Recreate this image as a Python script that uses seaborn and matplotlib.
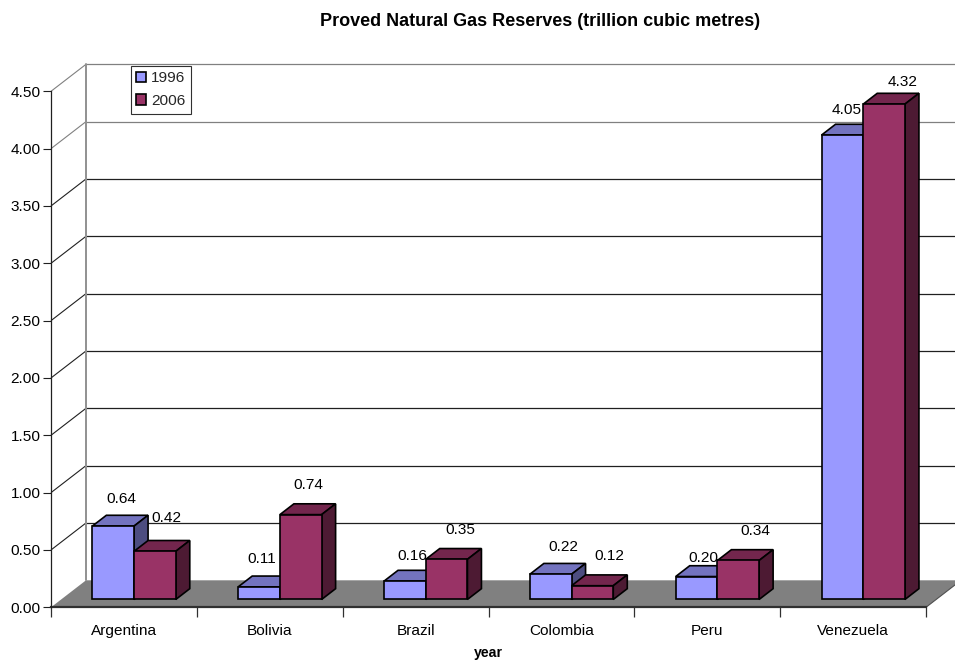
import matplotlib
matplotlib.use("Agg")
import matplotlib.pyplot as plt
from matplotlib.patches import Polygon
from matplotlib.transforms import Affine2D
import pandas as pd
import seaborn as sns

# Reserves by country, trillion cubic metres
countries = ["Argentina", "Bolivia", "Brazil", "Colombia", "Peru", "Venezuela"]
reserves_1996 = [0.64, 0.11, 0.16, 0.22, 0.20, 4.05]
reserves_2006 = [0.42, 0.74, 0.35, 0.12, 0.34, 4.32]
years = ["1996", "2006"]
y_ticks = [0.0, 0.5, 1.0, 1.5, 2.0, 2.5, 3.0, 3.5, 4.0, 4.5]

# Offsets of the value labels from the top of each bar's front face, in pixels
label_shift_1996 = [(8, 27), (3, 28), (7, 25), (13, 27.5), (7, 19), (4, 25.5)]
label_shift_2006 = [(11.5, 33), (8, 30), (14, 29), (17, 30), (17, 29), (18, 22)]

W, H = 955, 661
LEFT, RIGHT, BASE, TOP = 51, 926, 607.3, 91.3
FONT = 11.1

sns.set_theme(style="white")
plt.rcParams["font.family"] = ["Liberation Sans", "DejaVu Sans"]

df = pd.DataFrame({
    "country": countries * 2,
    "year": [years[0]] * 6 + [years[1]] * 6,
    "reserves": reserves_1996 + reserves_2006,
})

fig = plt.figure(figsize=(W / 100, H / 100), dpi=100, facecolor="white")
ax = fig.add_axes([LEFT / W, 1 - BASE / H, (RIGHT - LEFT) / W, (BASE - TOP) / H])
ax.patch.set_visible(False)

front = {"1996": "#9999FF", "2006": "#993366"}
top_face = {"1996": "#7373BF", "2006": "#73264D"}
side_face = {"1996": "#4D4D80", "2006": "#4D1A33"}

sns.barplot(data=df, x="country", y="reserves", hue="year", hue_order=years,
            palette=front, saturation=1, width=0.572, gap=0,
            edgecolor="black", linewidth=1.2, ax=ax)

ax.set_xlim(-0.5, 5.5)
ax.set_ylim(0, 4.5)

# Oblique projection: one full unit of depth in data coordinates
DX = 35 / ((RIGHT - LEFT) / 6)
DY = 27 / ((BASE - TOP) / 4.5)
BAR_START = 0.29
BAR_DEPTH = 0.40
x0, x1 = -0.5, 5.5

# Floor and walls
ax.add_patch(Polygon([(x0, 0), (x1, 0), (x1 + DX, DY), (x0 + DX, DY)],
                     closed=True, facecolor="#808080", edgecolor="none",
                     clip_on=False, zorder=1))
for i, tick in enumerate(y_ticks):
    shade = "#808080" if tick in (4.5, 4.0) else "#202020"
    if tick > 0:
        ax.plot([x0, x0 + DX], [tick, tick + DY], color=shade, lw=0.8,
                clip_on=False, zorder=1.5, solid_capstyle="butt")
        ax.plot([x0 + DX, x1 + DX], [tick + DY, tick + DY], color=shade, lw=0.9,
                clip_on=False, zorder=1.5, solid_capstyle="butt")
ax.plot([x0 + DX, x0 + DX], [DY, 4.5 + DY], color="#909090", lw=1.4,
        clip_on=False, zorder=1.5)
ax.plot([x1, x1 + DX], [0, DY], color="#505050", lw=0.8, clip_on=False, zorder=1.5)

# Extruded bars: shift the front faces onto the floor and add top and side faces
shift = Affine2D().translate(BAR_START * DX, BAR_START * DY) + ax.transData
dx, dy = BAR_DEPTH * DX, BAR_DEPTH * DY
ox, oy = BAR_START * DX, BAR_START * DY
edge = dict(edgecolor="black", linewidth=1.2, joinstyle="miter", clip_on=False)
shifts = [label_shift_1996, label_shift_2006]

for s, (year, bars) in enumerate(zip(years, ax.containers)):
    z = 3 + s
    for c, bar in enumerate(bars):
        bar.set_transform(shift)
        bar.set_zorder(z + 0.2)
        bar.set_clip_on(False)
        a = bar.get_x() + ox
        b = a + bar.get_width()
        h = bar.get_height() + oy
        ax.add_patch(Polygon([(a, h), (b, h), (b + dx, h + dy), (a + dx, h + dy)],
                             facecolor=top_face[year], zorder=z, **edge))
        ax.add_patch(Polygon([(b, oy), (b + dx, oy + dy), (b + dx, h + dy), (b, h)],
                             facecolor=side_face[year], zorder=z, **edge))
        px, py = shifts[s][c]
        ax.annotate(f"{bar.get_height():.2f}", xy=((a + b) / 2, h),
                    xytext=(px * 0.72, py * 0.72), textcoords="offset points",
                    ha="center", va="center", fontsize=FONT, color="black",
                    annotation_clip=False, zorder=8)

# Axes furniture
for name in ("top", "right"):
    ax.spines[name].set_visible(False)
ax.spines["left"].set_color("#202020")
ax.spines["left"].set_linewidth(0.9)
ax.spines["bottom"].set_color("#303030")
ax.spines["bottom"].set_linewidth(1.6)
ax.spines["left"].set_zorder(6)
ax.spines["bottom"].set_zorder(2)

ax.set_yticks(y_ticks, [f"{t:.2f}" for t in y_ticks])
ax.tick_params(axis="y", which="major", left=True, length=6, width=0.8, pad=1.5,
               color="#202020", labelsize=FONT, labelcolor="black")
ax.set_xticks(range(6), countries)
ax.set_xticks([x0 + i for i in range(7)], minor=True)
ax.tick_params(axis="x", which="major", bottom=False, length=0, pad=12,
               labelsize=FONT, labelcolor="black")
ax.tick_params(axis="x", which="minor", bottom=True, length=7, width=0.9,
               color="#303030")

ax.set_xlabel("year", fontsize=10.2, fontweight="bold", color="black", labelpad=6)
ax.set_ylabel("")
fig.text(540 / W, 1 - 22 / H, "Proved Natural Gas Reserves (trillion cubic metres)",
         ha="center", va="center", fontsize=13, fontweight="bold", color="black")

handles, labels = ax.get_legend_handles_labels()
leg = ax.legend(handles, labels, loc="upper left", ncol=1, frameon=True,
                bbox_to_anchor=(130.5 / W, 1 - 65.5 / H), bbox_transform=fig.transFigure,
                fontsize=FONT, fancybox=False, framealpha=1, edgecolor="#303030",
                facecolor="white", handlelength=0.65, handleheight=0.65,
                handletextpad=0.3, labelspacing=0.55, borderpad=0.38, borderaxespad=0,
                title=None)
leg.get_frame().set_linewidth(0.8)
leg.set_zorder(7)

fig.savefig("out.png", dpi=100)
